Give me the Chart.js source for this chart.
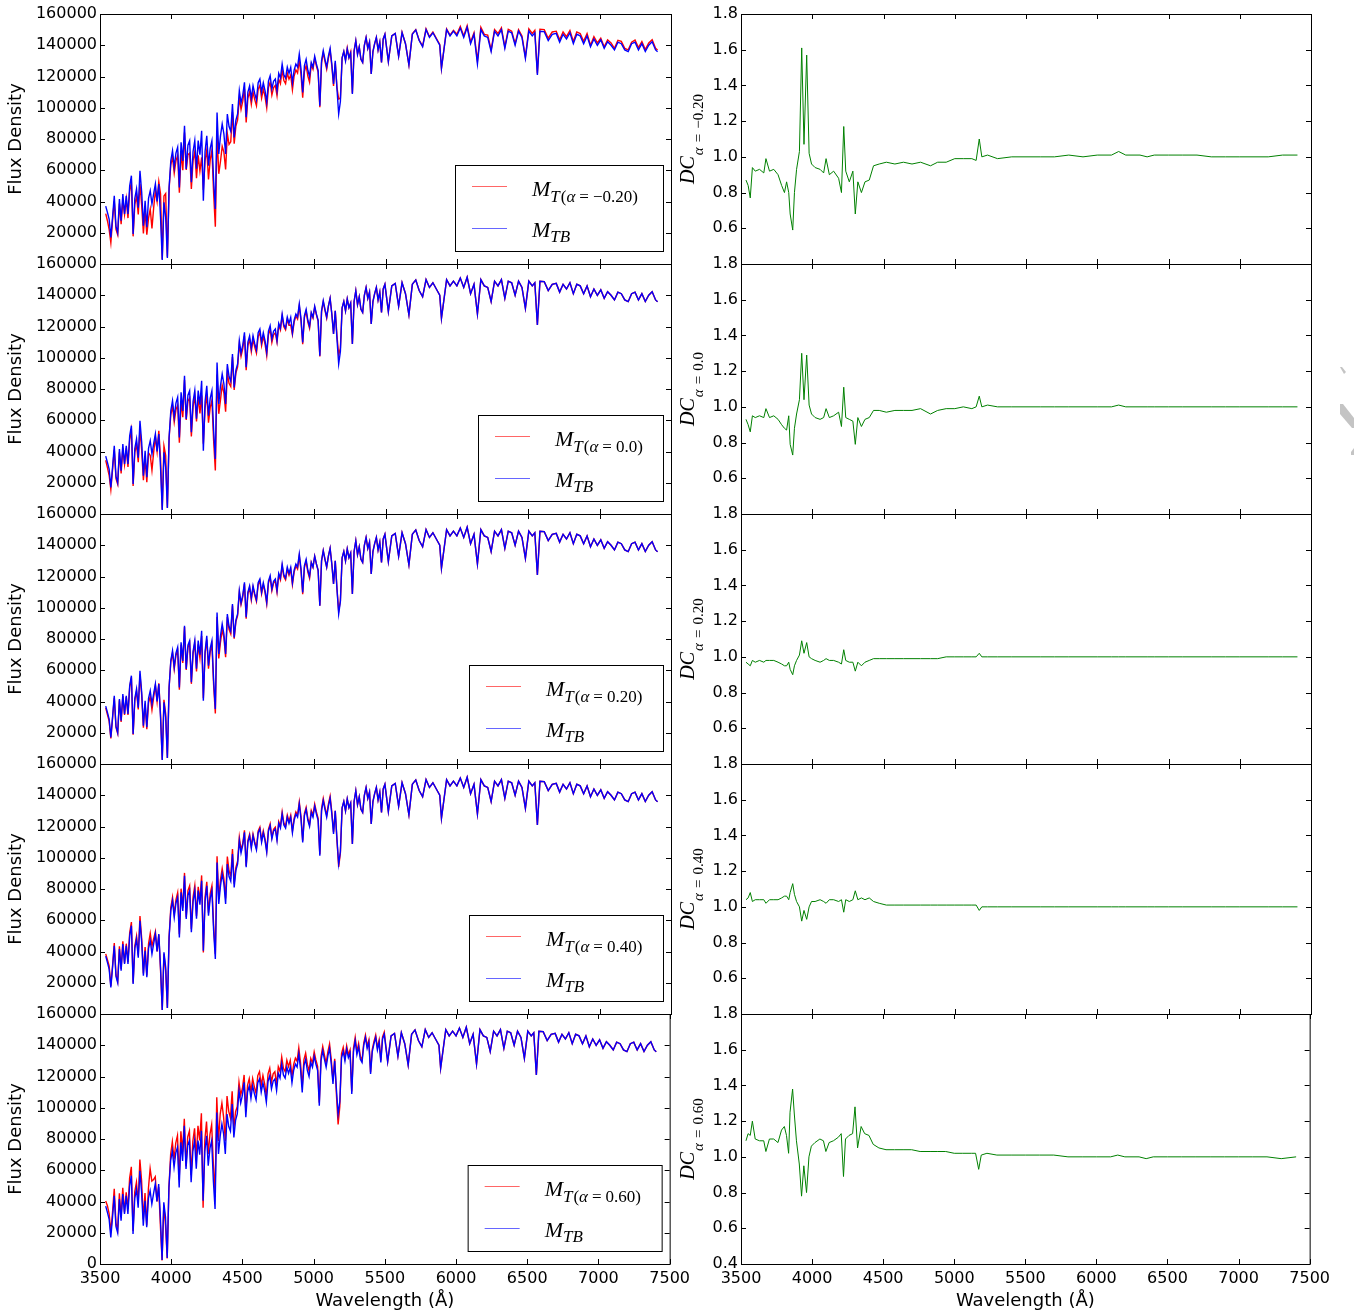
<!DOCTYPE html>
<html>
<head>
<meta charset="utf-8">
<script src="https://cdn.jsdelivr.net/npm/chart.js@4.4.1/dist/chart.umd.min.js"></script>
<style>
html, body { margin: 0; padding: 0; background: #fff; }
#page { position: relative; width: 1354px; height: 1315px; overflow: hidden; background: #fff; }
#page canvas { position: absolute; }
</style>
</head>
<body>
<div id="page"></div>
<script>
// wavelength grid of the spectra (Angstrom): 3540-5496 and 5520-7406
var waveHead = [3540,3552,3564,3576,3588,3600,3612,3624,3636,3648,
  3660,3672,3684,3696,3708,3720,3732,3744,3756,3768,
  3780,3792,3804,3816,3828,3840,3852,3864,3876,3888,
  3900,3912,3924,3936,3948,3960,3972,3984,3996,4008,
  4020,4032,4044,4056,4068,4080,4092,4104,4116,4128,
  4140,4152,4164,4176,4188,4200,4212,4224,4236,4248,
  4260,4272,4284,4296,4308,4320,4332,4344,4356,4368,
  4380,4392,4404,4416,4428,4440,4452,4464,4476,4488,
  4500,4512,4524,4536,4548,4560,4572,4584,4596,4608,
  4620,4632,4644,4656,4668,4680,4692,4704,4716,4728,
  4740,4752,4764,4776,4788,4800,4812,4824,4836,4848,
  4860,4872,4884,4896,4908,4920,4932,4944,4956,4968,
  4980,4992,5004,5016,5028,5040,5052,5064,5076,5088,
  5100,5112,5124,5136,5148,5160,5172,5184,5196,5208,
  5220,5232,5244,5256,5268,5280,5292,5304,5316,5328,
  5340,5352,5364,5376,5388,5400,5412,5424,5436,5448,
  5460,5472,5484,5496];
var waveTail = [5520,5544,5568,5592,5616,5640,5664,5688,5712,5736,
  5760,5784,5808,5832,5856,5880,5892,5928,5952,5976,
  6000,6024,6048,6072,6096,6120,6144,6168,6192,6216,
  6240,6264,6288,6312,6336,6360,6384,6408,6432,6456,
  6480,6504,6528,6546,6564,6582,6612,6640,6668,6696,
  6720,6744,6768,6792,6816,6840,6864,6888,6912,6936,
  6960,6984,7008,7032,7056,7080,7104,7128,7152,7176,
  7200,7224,7248,7272,7296,7320,7344,7368,7392,7406];

// M_TB (blue, same in every panel)
var fluxTBHead = [37000,33000,28800,17000,30000,43700,24000,20000,41600,27700,
  44800,32000,43700,32000,50000,56500,19200,42000,48000,36000,
  59700,46000,24500,40500,23500,42000,46900,38400,45000,51200,
  40000,51200,30000,2600,39500,30000,3800,49000,66100,72500,
  61900,71000,74700,49000,77900,66000,88500,60800,76000,78900,
  52300,72000,79000,61000,79000,70000,85300,40500,72000,82100,
  62900,74000,78900,53300,35200,97000,70400,82000,89600,83200,
  70400,96000,88000,85000,102400,81000,92000,96000,110900,103000,
  108000,116300,93900,110000,114000,106000,114100,109000,105000,116000,
  118400,110000,116000,111000,103500,117000,120500,112000,117000,118400,
  111000,122000,119000,128000,121000,119000,126000,122000,125900,116000,
  124000,128000,126000,134400,125000,109800,127000,131000,124000,120000,
  129000,126000,133000,128000,124000,101300,130000,136500,131000,126000,
  133000,138000,128000,115200,130000,112000,96000,104000,132000,136000,
  130000,137600,132000,135000,108800,136000,142900,134000,139000,131000,
  129000,140000,145000,138000,142000,121600,136000,141000,145000,137000,
  142000,129000,144000,147000];
// beyond 5500 A the red curves of panels 2-5 lie on the blue one
var fluxTBTail = [129500,146000,147600,133000,148000,141000,127400,147000,149800,143000,
  139000,150000,145000,148000,144000,140000,125300,150000,146000,149000,
  146000,151000,145000,151500,141000,147000,128000,150000,146000,145000,
  136000,149000,146000,150000,138000,149000,148000,140000,149000,145000,
  131600,149000,146000,148000,121000,149000,148700,143000,147000,147600,
  142000,147000,144000,148000,141000,147000,146000,141000,146000,139000,
  144000,140000,143500,138000,142300,140000,137000,142000,141000,137000,
  135900,141000,142000,137000,141000,136000,140000,142300,137000,135900];

// M_T(alpha=-0.20)
var fluxTm020Head = [32200,27700,22200,13600,28200,40200,22100,18600,38700,25500,
  40800,31700,41500,29400,46500,52500,17700,38200,43200,31700,
  51300,37700,19600,34000,18800,29400,35200,22700,36000,47100,
  40000,52700,45000,3100,43500,45000,4600,48000,63500,68200,
  58200,66000,69500,45600,71700,60100,84100,60200,69900,71000,
  48100,66200,71900,54900,69500,59500,68200,47400,66200,73100,
  54100,66600,72600,45300,23900,83400,57700,65600,75300,71600,
  60500,83500,76600,78200,97300,77000,88300,92200,106500,98900,
  104200,112200,90600,106200,110000,102300,110100,105200,101300,111900,
  114300,106200,111900,107100,99900,112900,116300,108100,112900,114300,
  107700,118300,115400,124200,117400,115400,122200,118300,120900,111400,
  120300,124200,122200,130400,121300,106500,123200,127100,120300,116400,
  127700,124700,131700,126700,122800,100300,128700,135100,129700,124700,
  131700,136600,126700,114000,128700,113100,105600,106100,132000,136000,
  130600,138300,132000,135700,109300,136700,142900,134700,139000,131000,
  129000,140000,145000,138000,142000,121600,136000,141000,145000,137000,
  142000,129000,144000,147000];
var fluxTm020Tail = [129500,146000,147600,133000,148300,141000,127400,147300,150000,143300,
  139500,150500,145500,148500,144500,140500,125300,150500,146500,149500,
  147000,152000,146000,152500,142000,148000,130000,151500,147000,146500,
  137000,150000,147500,151200,139000,150200,149000,141000,150000,146000,
  132500,150500,147500,149500,122000,150300,150000,144500,148500,149000,
  143500,148500,145500,149500,142500,148500,147500,142500,147500,140000,
  145500,141500,144500,139000,143500,141500,138000,143200,142500,138000,
  137000,142000,143300,138500,142300,137200,141500,143500,138000,137000];

// M_T(alpha=0.0)
var fluxT000Head = [34400,29700,24800,15600,28500,41100,22600,19000,39500,26000,
  42100,31700,42000,30100,47500,53700,18000,39500,44600,33100,
  54300,40900,21600,35200,20400,39100,37500,28000,39600,49200,
  40000,53200,36000,2900,43500,37500,4000,48500,63500,68900,
  58800,66700,69500,45600,72400,62000,85800,60200,72200,74200,
  49700,68400,75800,59200,75100,64400,75900,45000,67700,76400,
  58500,68100,72600,46900,27800,89200,64100,73000,82400,77400,
  65500,90200,83600,81600,100400,79400,90200,94100,108700,100900,
  105800,114000,92000,107800,111700,103900,111800,106800,102900,113700,
  116000,107800,113700,108800,101400,114700,118100,109800,114700,116000,
  109900,120800,117800,126700,119800,117800,124700,120800,120900,114800,
  122800,126700,124700,133100,123800,108700,125700,129700,122800,118800,
  128400,125400,132300,127400,123400,100800,129400,135800,130300,125400,
  133000,138000,128000,115200,130000,114200,101800,106100,132000,136000,
  130000,137600,132000,135000,108800,136000,142900,134000,139000,131000,
  129000,140000,145000,138000,142000,121600,136000,141000,145000,137000,
  142000,129000,144000,147000];

// M_T(alpha=0.20)
var fluxT020Head = [35900,31700,27400,16300,29400,42400,23500,19600,40800,26900,
  43500,31400,42800,31400,49000,55400,18800,40700,46600,34900,
  57300,44200,23300,38500,22300,39100,43100,34600,42800,50200,
  40000,51700,31800,2700,41100,32100,3800,49000,65400,71100,
  60700,69600,72500,47500,76300,64700,87600,60200,74500,77300,
  51300,70600,77400,59200,76600,67900,81900,42100,70600,79600,
  61000,71800,76500,50600,32400,94100,67600,77900,86000,80700,
  68300,94100,86200,83300,101400,80200,91100,95000,109800,102000,
  106900,115100,93000,108900,112900,104900,113000,107900,104000,114800,
  117200,108900,114800,109900,102500,115800,119300,110900,115800,117200,
  109900,120800,117800,126700,119800,117800,124700,120800,124600,114800,
  122800,126700,124700,133100,123800,108700,125700,129700,122800,118800,
  129000,126000,133000,128000,124000,101300,130000,136500,131000,126000,
  133000,138000,128000,115200,130000,112500,97900,104500,132000,136000,
  130000,137600,132000,135000,108800,136000,142900,134000,139000,131000,
  129000,140000,145000,138000,142000,121600,136000,141000,145000,137000,
  142000,129000,144000,147000];

// M_T(alpha=0.40)
var fluxT040Head = [38500,34700,30800,17900,30900,45400,25000,20800,43300,28800,
  46600,32600,45000,33300,52000,58800,20000,43700,49900,37400,
  62700,48300,26000,42900,24700,44900,51600,43400,48200,52700,
  40000,50700,28200,2500,38300,27900,3800,49500,68100,74700,
  63800,73100,77700,51000,80200,68000,90300,62000,79000,82100,
  54400,74900,82200,62800,81400,72800,88700,39300,74900,84600,
  64800,77000,82100,56500,38400,100900,73900,86100,93200,86500,
  73900,100800,91500,88400,105500,83400,93800,97900,113100,105100,
  109100,117500,94800,111100,115100,107100,115200,110100,106100,117200,
  119600,111100,117200,112100,104500,118200,121700,113100,118200,119600,
  112100,123200,120200,129300,122200,120200,127300,123200,127200,117200,
  125200,129300,127300,135700,126300,110900,128300,132300,125200,121200,
  130300,127300,134300,129300,125200,102300,131300,137900,132300,127300,
  134300,139400,129300,116400,130000,110900,94100,103000,132000,136000,
  130000,137600,132000,135000,108800,136000,142900,134000,139000,131000,
  129000,140000,145000,138000,142000,121600,136000,141000,145000,137000,
  142000,129000,144000,147000];

// M_T(alpha=0.60)
var fluxT060Head = [40300,37300,32300,20400,33000,48100,26200,21800,45300,30200,
  48800,33000,45900,35200,55000,62200,21100,46200,52300,38900,
  66900,53400,28700,45400,24700,48300,61000,53000,54000,55800,
  40000,49200,24600,2300,37500,24600,3600,49000,70100,78300,
  66900,77400,82200,53900,84900,71900,92900,62600,81300,85200,
  57000,78500,86900,67700,88500,79100,96400,36000,79200,91100,
  70400,82900,89200,64000,45100,106700,78800,95900,103000,94000,
  78800,107500,97700,93500,110600,86700,97500,100800,116400,108200,
  112300,121000,97700,114400,118600,110200,118700,113400,109200,120600,
  123100,114400,120600,115400,107600,121700,125300,116500,121700,123100,
  114900,126300,123200,132500,125200,123200,130400,126300,130300,120100,
  127700,131800,129800,138400,128800,113100,130800,134900,127700,123600,
  131600,128500,135700,130600,126500,103300,132600,139200,133600,128500,
  135700,140800,130600,117500,131300,108600,89300,100900,134600,138700,
  132000,139700,134000,137000,110400,138000,145000,136000,141100,133000,
  130300,141400,146500,139400,143400,122800,137400,142400,146500,138400,
  143400,130300,145400,148500];

// wavelength grid of the DC curves
var dcWave = [3535,3550,3565,3580,3600,3630,3660,3675,3700,3730,
  3760,3785,3805,3820,3835,3845,3863,3875,3890,3910,
  3926,3942,3961,3978,3995,4020,4055,4080,4097,4120,
  4150,4185,4205,4221,4235,4260,4285,4302,4320,4345,
  4370,4400,4430,4470,4520,4580,4640,4700,4760,4830,
  4880,4940,5000,5060,5120,5150,5172,5190,5230,5300,
  5400,5500,5600,5700,5800,5900,6000,6100,6150,6200,
  6300,6350,6400,6500,6600,6700,6800,6900,7000,7100,
  7200,7300,7405];

var dcm020 = [0.87,0.84,0.77,0.94,0.92,0.93,0.91,0.99,0.92,0.93,
  0.90,0.84,0.80,0.86,0.80,0.68,0.59,0.80,0.93,1.03,
  1.61,1.07,1.57,1.02,0.96,0.94,0.93,0.91,0.99,0.90,
  0.92,0.88,0.80,1.17,0.92,0.86,0.92,0.68,0.86,0.80,
  0.86,0.87,0.95,0.96,0.97,0.96,0.97,0.96,0.97,0.95,
  0.97,0.97,0.99,0.99,0.99,0.98,1.10,1.00,1.01,0.99,
  1.00,1.00,1.00,1.00,1.01,1.00,1.01,1.01,1.03,1.01,
  1.01,1.00,1.01,1.01,1.01,1.01,1.00,1.00,1.00,1.00,
  1.00,1.01,1.01];
var dc000 = [0.93,0.90,0.86,0.95,0.94,0.95,0.94,0.99,0.94,0.95,
  0.93,0.90,0.88,0.87,0.95,0.79,0.73,0.88,0.96,1.04,
  1.30,1.04,1.29,1.01,0.96,0.94,0.93,0.94,0.99,0.94,
  0.95,0.97,0.89,1.11,0.94,0.93,0.92,0.79,0.94,0.89,
  0.93,0.94,0.98,0.98,0.97,0.98,0.98,0.98,0.99,0.96,
  0.98,0.99,0.99,1.00,0.99,1.00,1.06,1.00,1.01,1.00,
  1.00,1.00,1.00,1.00,1.00,1.00,1.00,1.00,1.01,1.00,
  1.00,1.00,1.00,1.00,1.00,1.00,1.00,1.00,1.00,1.00,
  1.00,1.00,1.00];
var dc020 = [0.97,0.96,0.95,0.98,0.97,0.98,0.97,0.98,0.98,0.98,
  0.97,0.96,0.95,0.95,0.97,0.93,0.90,0.95,0.98,1.01,
  1.09,1.02,1.08,1.00,0.99,0.98,0.97,0.98,0.99,0.98,
  0.98,0.97,0.96,1.04,0.98,0.97,0.97,0.92,0.97,0.95,
  0.97,0.98,0.99,0.99,0.99,0.99,0.99,0.99,0.99,0.99,
  0.99,1.00,1.00,1.00,1.00,1.00,1.02,1.00,1.00,1.00,
  1.00,1.00,1.00,1.00,1.00,1.00,1.00,1.00,1.00,1.00,
  1.00,1.00,1.00,1.00,1.00,1.00,1.00,1.00,1.00,1.00,
  1.00,1.00,1.00];
var dc040 = [1.04,1.05,1.08,1.03,1.04,1.04,1.04,1.02,1.04,1.04,
  1.04,1.05,1.06,1.06,1.04,1.08,1.13,1.07,1.03,1.00,
  0.92,0.98,0.93,1.00,1.03,1.03,1.04,1.03,1.02,1.04,
  1.04,1.03,1.04,0.97,1.04,1.03,1.04,1.09,1.04,1.05,
  1.04,1.05,1.03,1.02,1.01,1.01,1.01,1.01,1.01,1.01,
  1.01,1.01,1.01,1.01,1.01,1.01,0.98,1.00,1.00,1.00,
  1.00,1.00,1.00,1.00,1.00,1.00,1.00,1.00,1.00,1.00,
  1.00,1.00,1.00,1.00,1.00,1.00,1.00,1.00,1.00,1.00,
  1.00,1.00,1.00];
var dc060 = [1.09,1.13,1.12,1.20,1.10,1.09,1.09,1.03,1.10,1.10,
  1.08,1.15,1.17,1.12,1.02,1.25,1.38,1.24,1.09,0.96,
  0.78,0.95,0.80,1.00,1.06,1.08,1.10,1.09,1.03,1.08,
  1.09,1.11,1.13,0.89,1.10,1.12,1.13,1.28,1.05,1.17,
  1.13,1.12,1.07,1.05,1.04,1.04,1.04,1.04,1.03,1.03,
  1.03,1.03,1.02,1.02,1.02,1.02,0.93,1.01,1.02,1.01,
  1.01,1.01,1.01,1.01,1.00,1.00,1.00,1.00,1.01,1.00,
  1.00,0.99,1.00,1.00,1.00,1.00,1.00,1.00,1.00,1.00,
  1.00,0.99,1.00];

var alphaText = ['\u22120.20', '0.0', '0.20', '0.40', '0.60'];

var xTicks = [3500,4000,4500,5000,5500,6000,6500,7000,7500];
var fluxTicks = [0,20000,40000,60000,80000,100000,120000,140000,160000];
var dcTicks = [0.4,0.6,0.8,1.0,1.2,1.4,1.6,1.8];

var wave = waveHead.concat(waveTail);
var fluxTB = fluxTBHead.concat(fluxTBTail);
var fluxT = [
  fluxTm020Head.concat(fluxTm020Tail),
  fluxT000Head.concat(fluxTBTail),
  fluxT020Head.concat(fluxTBTail),
  fluxT040Head.concat(fluxTBTail),
  fluxT060Head.concat(fluxTBTail)
];
var dcSeries = [dcm020, dc000, dc020, dc040, dc060];

Chart.defaults.font.family = '"DejaVu Sans", sans-serif';
Chart.defaults.font.size = 16;
Chart.defaults.color = '#000';

var page = document.getElementById('page');
var mathFont = '"Liberation Serif", "DejaVu Serif", serif';

function pairs(xs, ys) {
  var out = [];
  var n = Math.min(xs.length, ys.length);
  for (var i = 0; i < n; i++) out.push({x: xs[i], y: ys[i]});
  return out;
}

function addCanvas(left, topPx, w, h) {
  var c = document.createElement('canvas');
  c.width = w; c.height = h;
  c.style.left = left + 'px'; c.style.top = topPx + 'px';
  c.style.width = w + 'px'; c.style.height = h + 'px';
  page.appendChild(c);
  return c;
}

// segs: [text, size, dy, italic, gapBefore]
function drawMath(ctx, x, y, segs, center) {
  var w = 0;
  segs.forEach(function (s) {
    ctx.font = (s[3] ? 'italic ' : '') + s[1] + 'px ' + mathFont;
    w += (s[4] || 0) + ctx.measureText(s[0]).width;
  });
  var cx = center ? x - w / 2 : x;
  ctx.textAlign = 'left';
  ctx.textBaseline = 'alphabetic';
  ctx.fillStyle = '#000';
  segs.forEach(function (s) {
    ctx.font = (s[3] ? 'italic ' : '') + s[1] + 'px ' + mathFont;
    cx += (s[4] || 0);
    ctx.fillText(s[0], cx, y + s[2]);
    cx += ctx.measureText(s[0]).width;
  });
}

// frame with inward ticks on all four sides
var framePlugin = {
  id: 'frame',
  afterDraw: function (chart) {
    var a = chart.chartArea, ctx = chart.ctx;
    var xs = chart.scales.x, ys = chart.scales.y;
    var yt = chart.options.scales.y.max > 10 ? fluxTicks : dcTicks;
    ctx.save();
    ctx.strokeStyle = '#000';
    ctx.lineWidth = 1;
    ctx.strokeRect(a.left + 0.5, a.top + 0.5, a.right - a.left, a.bottom - a.top);
    ctx.beginPath();
    xTicks.forEach(function (v) {
      var px = Math.round(xs.getPixelForValue(v)) + 0.5;
      ctx.moveTo(px, a.bottom); ctx.lineTo(px, a.bottom - 5);
      ctx.moveTo(px, a.top); ctx.lineTo(px, a.top + 5);
    });
    yt.forEach(function (v) {
      var py = Math.round(ys.getPixelForValue(v)) + 0.5;
      ctx.moveTo(a.left, py); ctx.lineTo(a.left + 5, py);
      ctx.moveTo(a.right, py); ctx.lineTo(a.right - 5, py);
    });
    ctx.stroke();
    ctx.restore();
  }
};

var legendWidths = [208, 185, 194, 194, 194];

function legendPlugin(row) {
  return {
    id: 'mlegend',
    afterDraw: function (chart) {
      var a = chart.chartArea, ctx = chart.ctx;
      var w = legendWidths[row], h = 86;
      var x1 = a.right - 8, y1 = a.bottom - 13;
      var x0 = x1 - w, y0 = y1 - h;
      ctx.save();
      ctx.fillStyle = '#fff';
      ctx.fillRect(x0, y0, w, h);
      ctx.strokeStyle = '#000';
      ctx.lineWidth = 1;
      ctx.strokeRect(x0 + 0.5, y0 + 0.5, w, h);
      ctx.beginPath();
      ctx.strokeStyle = 'rgba(255,0,0,0.6)';
      ctx.moveTo(x0 + 17, y0 + 21.5); ctx.lineTo(x0 + 52, y0 + 21.5);
      ctx.stroke();
      ctx.beginPath();
      ctx.strokeStyle = 'rgba(0,0,255,0.6)';
      ctx.moveTo(x0 + 17, y0 + 63.5); ctx.lineTo(x0 + 52, y0 + 63.5);
      ctx.stroke();
      drawMath(ctx, x0 + 77, y0 + 31, [
        ['M', 22, 0, true, 0], ['T', 17, 6, true, 0], ['(', 17, 6, false, 1],
        ['\u03b1', 17, 6, true, 0], ['=', 17, 6, false, 4], [alphaText[row] + ')', 17, 6, false, 4]
      ], false);
      drawMath(ctx, x0 + 77, y0 + 72, [['M', 22, 0, true, 0], ['TB', 17, 5, true, 0]], false);
      ctx.restore();
    }
  };
}

function dcLabelPlugin(row) {
  return {
    id: 'dclabel',
    afterDraw: function (chart) {
      var a = chart.chartArea, ctx = chart.ctx;
      ctx.save();
      ctx.translate(a.left - 47, (a.top + a.bottom) / 2);
      ctx.rotate(-Math.PI / 2);
      drawMath(ctx, 0, 0, [
        ['DC', 20, 0, true, 0], ['\u03b1', 15, 9, true, 1],
        ['=', 15, 9, false, 5], [alphaText[row], 15, 9, false, 5]
      ], true);
      ctx.restore();
    }
  };
}

function xScale(last, B) {
  var s = {
    type: 'linear', min: 3500, max: 7500,
    afterBuildTicks: function (sc) { sc.ticks = xTicks.map(function (v) { return {value: v}; }); },
    grid: {display: false, drawTicks: false},
    border: {display: false},
    ticks: {padding: 5, autoSkip: false, maxRotation: 0, callback: function (v) { return String(v); }}
  };
  if (last) {
    s.display = true;
    s.title = {display: true, text: 'Wavelength (\u00c5)', font: {size: 18}, padding: {top: 0, bottom: 3}};
    s.afterFit = function (sc) { sc.height = B; };
  } else {
    s.display = false;
  }
  return s;
}

var plotTop = 14, plotH = 250, T = 14, R = 24;

for (var row = 0; row < 5; row++) {
  var last = row === 4;
  var B = last ? 51 : 14;
  var canvasTop = plotTop + row * plotH - T;
  var hgt = T + plotH + B;

  // left column: spectra
  (function (row, last, B, cTop) {
    var L = 100;
    var c = addCanvas(100 - L, cTop, L + 571 + R, hgt);
    new Chart(c, {
      type: 'line',
      data: {
        datasets: [
          {label: 'M_TB', data: pairs(wave, fluxTB), borderColor: '#0000ff', borderWidth: 1.4, pointRadius: 0, tension: 0},
          {label: 'M_T', data: pairs(wave, fluxT[row]), borderColor: '#ff0000', borderWidth: 1.4, pointRadius: 0, tension: 0}
        ]
      },
      options: {
        responsive: false, animation: false, devicePixelRatio: 1, events: [],
        layout: {padding: {top: T, right: R, bottom: last ? 0 : B, left: 0}},
        plugins: {legend: {display: false}, tooltip: {enabled: false}},
        scales: {
          x: xScale(last, B),
          y: {
            type: 'linear', min: 0, max: 160000,
            afterBuildTicks: function (sc) { sc.ticks = fluxTicks.map(function (v) { return {value: v}; }); },
            afterFit: function (sc) { sc.width = L; },
            grid: {display: false, drawTicks: false},
            border: {display: false},
            ticks: {padding: 3, autoSkip: false, callback: function (v) { return (!last && v === 0) ? '' : String(v); }},
            title: {display: true, text: 'Flux Density', font: {size: 18}, padding: {top: 6, bottom: 0}}
          }
        }
      },
      plugins: [framePlugin, legendPlugin(row)]
    });
  })(row, last, B, canvasTop);

  // right column: DC ratios
  (function (row, last, B, cTop) {
    var L = 70;
    var c = addCanvas(741 - L, cTop, L + 570 + R, hgt);
    new Chart(c, {
      type: 'line',
      data: {
        datasets: [
          {label: 'DC', data: pairs(dcWave, dcSeries[row]), borderColor: '#008000', borderWidth: 1, pointRadius: 0, tension: 0}
        ]
      },
      options: {
        responsive: false, animation: false, devicePixelRatio: 1, events: [],
        layout: {padding: {top: T, right: R, bottom: last ? 0 : B, left: 0}},
        plugins: {legend: {display: false}, tooltip: {enabled: false}},
        scales: {
          x: xScale(last, B),
          y: {
            type: 'linear', min: 0.4, max: 1.8,
            afterBuildTicks: function (sc) { sc.ticks = dcTicks.map(function (v) { return {value: v}; }); },
            afterFit: function (sc) { sc.width = L; },
            grid: {display: false, drawTicks: false},
            border: {display: false},
            ticks: {padding: 3, autoSkip: false, callback: function (v) { return (!last && Math.abs(v - 0.4) < 1e-9) ? '' : v.toFixed(1); }}
          }
        }
      },
      plugins: [framePlugin, dcLabelPlugin(row)]
    });
  })(row, last, B, canvasTop);
}

// light grey mark at the right edge of the page
var deco = addCanvas(1334, 360, 20, 100);
var dctx = deco.getContext('2d');
dctx.fillStyle = '#c4c4c4';
dctx.beginPath();
dctx.moveTo(6, 7); dctx.lineTo(8, 7); dctx.lineTo(12, 12); dctx.lineTo(10, 14); dctx.closePath();
dctx.fill();
dctx.beginPath();
dctx.moveTo(6, 44); dctx.lineTo(6, 54); dctx.lineTo(18, 68); dctx.lineTo(20, 68); dctx.lineTo(20, 58); dctx.lineTo(9, 44); dctx.closePath();
dctx.fill();
dctx.beginPath();
dctx.moveTo(17, 92); dctx.lineTo(20, 88); dctx.lineTo(20, 95); dctx.lineTo(17, 95); dctx.closePath();
dctx.fill();
</script>
</body>
</html>
